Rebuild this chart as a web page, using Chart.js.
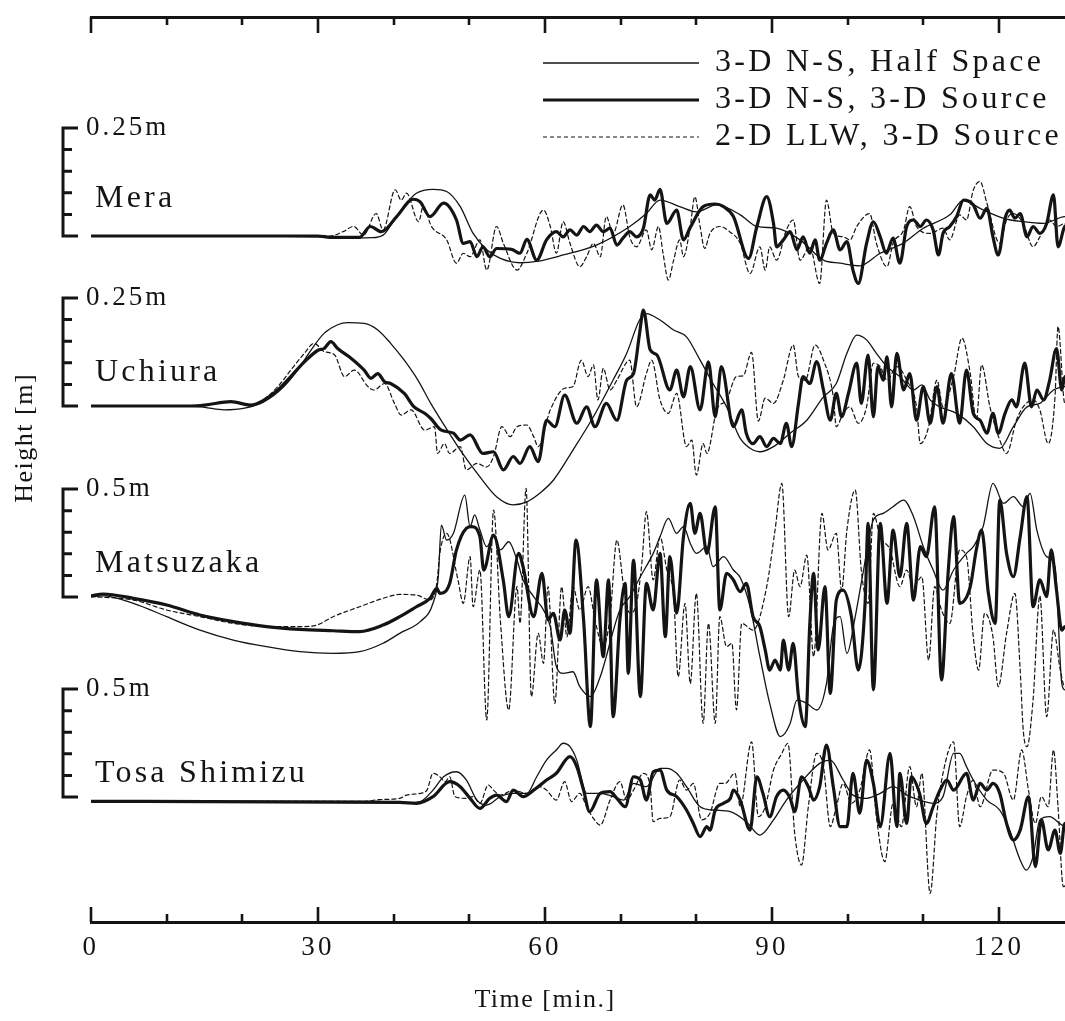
<!DOCTYPE html>
<html><head><meta charset="utf-8">
<script src="https://cdn.jsdelivr.net/npm/chart.js@4.4.1/dist/chart.umd.min.js"></script>
<style>
html,body{margin:0;padding:0;background:#fff;overflow:hidden}
#wrap{width:1065px;height:1021px;overflow:hidden;position:relative;background:#fff}
canvas{display:block}
</style></head>
<body><div id="wrap"><canvas id="c" width="1100" height="1021"></canvas></div>
<script>
// ---- data: [time (min), height (m)] ----
const MERA_HALF = [[0,0],[20,0],[30,-0.002],[34,-0.005],[37,-0.004],[38.6,0.002],[40,0.035],[41.7,0.076],[43,0.099],[45.2,0.108],[47,0.103],[48.8,0.068],[50.5,0.006],[52.3,-0.032],[54.1,-0.052],[56.7,-0.062],[58.9,-0.059],[62.4,-0.044],[66.8,-0.021],[71.2,0.022],[73.4,0.052],[75.2,0.083],[77.8,0.068],[80,0.056],[82.7,0.072],[85.8,0.049],[88,0.022],[90.6,0.018],[93.7,-0.009],[96.8,-0.056],[99,-0.063],[101.6,-0.069],[104.3,-0.040],[107.3,-0.017],[110,0.018],[113.5,0.049],[115.3,0.083],[117.5,0.064],[120.6,0.041],[123.2,0.033],[125.9,0.029],[128.7,0.045],[130,0.04]];
const MERA_SOURCE = [[0,0],[30,0],[31.6,-0.003],[35.5,-0.003],[36.9,0.022],[38.4,0.010],[40.4,0.045],[42.6,0.085],[43.5,0.079],[44.8,0.045],[46.6,0.076],[48.3,0.037],[49.2,-0.017],[50.1,-0.013],[51.0,-0.048],[51.8,-0.025],[52.7,-0.048],[53.6,-0.029],[55.6,-0.031],[56.7,-0.040],[57.6,-0.008],[58.9,-0.056],[60.2,-0.009],[61.5,0.010],[62.4,-0.002],[63.3,0.014],[64.2,0.002],[65.1,0.022],[65.9,0.010],[66.8,0.025],[67.7,0.010],[68.6,0.018],[69.5,-0.021],[70.3,-0.005],[71.2,0.010],[72.1,-0.002],[73.0,0.018],[73.9,0.095],[74.5,0.083],[75.2,0.108],[76.1,0.029],[77.4,0.060],[78.3,-0.009],[79.2,0.020],[80.9,0.068],[82.5,0.074],[83.6,0.068],[84.9,0.045],[86.9,-0.052],[88.0,0.022],[89.3,0.091],[90.2,0.029],[90.6,-0.025],[91.5,-0.009],[92.4,0.010],[93.3,-0.032],[94.1,-0.002],[95.0,-0.040],[95.7,-0.009],[96.3,-0.056],[97.2,-0.017],[98.1,0.014],[99.0,-0.032],[99.9,-0.013],[100.7,-0.079],[101.4,-0.110],[102.5,-0.017],[103.4,0.033],[104.3,-0.002],[105.1,-0.040],[106.0,-0.005],[106.9,-0.063],[107.8,0.022],[108.7,0.037],[109.6,0.022],[110.4,0.037],[111.3,0.014],[112.0,-0.044],[112.6,0.006],[113.5,0.022],[114.4,0.045],[115.3,0.083],[116.6,0.072],[117.5,0.041],[118.4,0.064],[119.2,-0.002],[119.9,-0.044],[120.8,0.041],[121.4,0.060],[122.1,0.041],[122.8,0.052],[123.7,-0.002],[124.5,0.022],[125.4,0.006],[126.3,0.029],[127.2,0.095],[127.8,-0.025],[128.7,0.022],[130,0.03]];
const MERA_LLW = [[0,0],[30,0],[31.6,0],[33.3,0.010],[34.7,0.022],[36.0,0.002],[37.7,0.052],[38.6,0.014],[40.2,0.107],[41.0,0.083],[41.7,0.099],[43.3,0.033],[43.9,0.068],[45.0,0.022],[47.0,-0.009],[48.3,-0.063],[49.2,-0.040],[50.1,-0.048],[51.4,-0.009],[52.3,-0.079],[53.6,0.022],[54.5,-0.017],[56.3,-0.079],[57.6,-0.040],[59.8,0.060],[60.7,0.022],[61.5,-0.040],[62.4,0.033],[63.3,-0.017],[64.6,-0.071],[65.5,-0.048],[66.4,-0.017],[67.3,-0.048],[68.1,0.045],[69.0,0.006],[70.3,0.072],[71.2,-0.002],[72.1,-0.025],[73.4,0.014],[74.1,-0.032],[75.0,0.022],[75.6,-0.040],[76.3,-0.102],[77.0,-0.056],[77.8,-0.009],[78.3,-0.048],[79.2,0.022],[79.8,0.091],[80.5,0.022],[81.1,-0.029],[81.8,0.006],[83.1,0.022],[84.4,0.010],[85.8,-0.017],[87.1,-0.087],[88.4,-0.025],[89.1,-0.079],[89.7,-0.025],[90.6,-0.056],[91.9,0.014],[92.8,0.037],[93.7,-0.056],[95.0,-0.025],[96.3,-0.110],[97.2,0.083],[98.1,0.006],[99.4,-0.002],[100.3,-0.009],[101.2,0.022],[102.9,0.052],[103.8,-0.017],[105.2,-0.071],[106.0,-0.017],[107.4,0.014],[108.2,0.068],[109.1,0.022],[110.9,0.006],[112.6,0.018],[113.5,-0.009],[114.8,0.049],[115.7,0.037],[116.6,0.106],[117.5,0.126],[118.4,0.076],[120.1,-0.017],[121.0,0.037],[121.9,0.052],[123.2,0.029],[124.5,-0.025],[125.4,-0.002],[126.7,0.037],[127.6,0.022],[128.7,0.029],[130,0.03]];

const UCHIURA_HALF = [[0,0],[13.2,0],[15,-0.003],[17.6,-0.009],[20.3,-0.005],[22.9,0.010],[25.5,0.045],[27.3,0.083],[29.1,0.130],[30.8,0.168],[32.6,0.188],[33.9,0.193],[36.1,0.191],[37.9,0.176],[39.6,0.145],[41.4,0.106],[43.2,0.060],[44.9,0.006],[46.7,-0.045],[48.8,-0.102],[51.4,-0.164],[53.6,-0.210],[55.8,-0.229],[57.6,-0.222],[59.3,-0.202],[61.1,-0.172],[63.7,-0.102],[66.4,-0.025],[69.0,0.060],[70.8,0.122],[72.5,0.199],[73.4,0.214],[75.2,0.199],[77.0,0.176],[78.7,0.160],[80.5,0.106],[82.2,0.052],[84.0,-0.002],[85.8,-0.075],[87.5,-0.102],[88.4,-0.106],[90.2,-0.094],[92.4,-0.063],[94.6,-0.033],[96.8,0.021],[98.5,0.052],[99.9,0.122],[101.2,0.164],[102.5,0.153],[103.8,0.122],[105.2,0.091],[106.9,0.068],[108.7,0.037],[109.8,0.049],[110.9,0.014],[112.2,-0.002],[114.4,-0.017],[116.6,-0.048],[118.4,-0.087],[120.1,-0.098],[121.9,-0.048],[123.7,-0.002],[125.4,0.006],[127.2,0.037],[128.7,0.045],[130,0.05]];
const UCHIURA_SOURCE = [[0,0],[13.2,0],[15,0.002],[18.5,0.010],[21.1,0.002],[22.9,0.014],[24.7,0.037],[26.4,0.068],[28.2,0.102],[30.0,0.129],[30.8,0.133],[31.7,0.149],[32.6,0.133],[34.4,0.110],[36.1,0.083],[37.0,0.064],[37.9,0.075],[38.8,0.056],[39.6,0.052],[41.4,0.029],[42.7,-0.002],[44.1,-0.017],[44.9,-0.029],[46.3,-0.056],[47.9,-0.063],[48.8,-0.079],[50.1,-0.067],[51.8,-0.110],[53.2,-0.106],[54.5,-0.148],[55.8,-0.117],[56.7,-0.133],[58.0,-0.094],[59.1,-0.129],[60.2,-0.033],[61.3,-0.048],[62.6,0.025],[64.2,-0.040],[65.5,-0.002],[66.6,-0.048],[68.1,0.006],[69.5,-0.033],[70.8,0.060],[71.7,0.075],[72.5,0.168],[73.0,0.222],[73.9,0.130],[74.8,0.118],[76.5,0.037],[77.4,0.083],[78.3,0.021],[79.2,0.091],[80.5,-0.009],[81.6,0.102],[82.5,-0.025],[83.3,0.091],[84.9,-0.048],[86.0,-0.009],[86.6,-0.063],[87.5,-0.087],[88.4,-0.071],[89.3,-0.094],[90.2,-0.075],[91.1,-0.087],[91.9,-0.040],[92.6,-0.094],[93.5,0.006],[94.1,0.068],[95.0,0.052],[95.9,0.103],[96.8,0.037],[97.7,-0.033],[98.5,0.029],[99.2,-0.025],[100.1,0.029],[101.2,0.099],[101.8,0.006],[102.7,0.118],[103.4,-0.025],[104.0,0.091],[104.7,0.060],[105.2,0.114],[105.8,-0.002],[106.5,0.122],[107.4,0.037],[108.2,0.075],[109.1,-0.033],[110.0,0.045],[110.9,-0.040],[111.8,0.045],[112.6,-0.040],[113.7,0.075],[114.8,-0.040],[115.7,0.083],[116.6,-0.017],[117.5,-0.033],[118.4,-0.063],[119.2,-0.017],[119.9,-0.063],[120.8,-0.017],[121.7,0.014],[122.3,-0.002],[123.4,0.099],[124.3,-0.002],[125.0,0.037],[125.9,0.014],[126.7,0.060],[127.6,0.133],[128.3,0.037],[128.7,0.068],[130,0.06]];
const UCHIURA_LLW = [[0,0],[13.2,0],[15,0.002],[18.5,0.010],[21.1,0.002],[22.9,0.016],[24.7,0.045],[26.4,0.083],[28.2,0.122],[29.5,0.145],[30.8,0.126],[32.2,0.118],[33.5,0.068],[34.8,0.083],[36.6,0.045],[37.4,0.037],[38.8,0.052],[40.1,0.006],[41.0,-0.021],[42.3,-0.009],[44.1,-0.056],[45.4,-0.048],[45.8,-0.110],[46.7,-0.087],[47.4,-0.110],[48.8,-0.094],[49.6,-0.148],[51.0,-0.133],[52.3,-0.141],[53.2,-0.117],[54.3,-0.048],[55.4,-0.071],[56.3,-0.048],[57.6,-0.044],[58.5,-0.071],[59.1,-0.094],[60.7,-0.009],[62.6,0.041],[63.7,0.045],[64.8,0.106],[65.7,0.068],[66.4,0.095],[67.0,0.014],[67.7,0.087],[68.6,0.037],[69.5,0.060],[71.2,0.106],[72.1,-0.002],[73.4,0.075],[74.1,0.106],[75.2,0.014],[76.3,-0.017],[77.4,0.029],[78.7,-0.094],[79.4,-0.079],[80.0,-0.160],[80.9,-0.087],[81.4,-0.110],[82.7,-0.009],[84.0,0.014],[85.3,0.068],[86.2,0.070],[87.3,0.124],[88.2,-0.035],[89.1,0.018],[90.2,0.006],[91.5,0.060],[92.8,0.141],[93.5,0.068],[94.4,0.060],[95.7,0.141],[96.8,0.106],[98.1,0.021],[98.5,-0.048],[99.4,-0.017],[100.3,-0.002],[101.4,-0.040],[102.5,-0.002],[103.4,0.099],[104.3,0.091],[105.2,0.060],[106.5,0.091],[107.8,0.060],[109.1,-0.002],[109.6,-0.087],[110.7,-0.048],[111.8,0.060],[112.6,-0.002],[114.0,0.068],[115.1,0.157],[116.2,0.075],[117.0,-0.033],[117.7,0.095],[118.8,-0.002],[120.1,-0.079],[121.0,-0.110],[122.3,-0.033],[123.2,-0.002],[124.5,0.014],[125.4,-0.009],[126.5,-0.087],[127.4,0.021],[127.8,0.184],[128.7,0.006],[130,0.02]];

const MATSU_HALF = [[0,0.002],[1.6,0.005],[5.6,-0.029],[10,-0.091],[14.4,-0.153],[18.8,-0.199],[23.2,-0.230],[27.6,-0.253],[32.0,-0.261],[35.5,-0.253],[38.6,-0.214],[40.8,-0.168],[43.5,-0.114],[45.2,-0.029],[45.9,0.094],[46.3,0.333],[47.0,0.264],[47.9,0.295],[49.4,0.472],[50.1,0.326],[50.7,0.380],[51.4,0.310],[52.3,0.233],[53.2,0.279],[54.1,0.218],[55.2,0.256],[56.3,0.171],[57.1,0.079],[58.5,0.002],[59.8,-0.060],[60.7,-0.137],[61.5,-0.322],[62.4,-0.353],[63.7,-0.346],[64.6,-0.415],[66.0,-0.461],[67.3,-0.369],[68.1,-0.276],[68.8,-0.184],[69.9,-0.060],[71.2,0.002],[72.6,0.094],[74.3,0.202],[75.2,0.279],[76.3,0.364],[77.4,0.295],[78.3,0.326],[79.2,0.248],[80.0,0.202],[81.4,0.233],[82.2,0.141],[83.6,0.187],[84.9,0.125],[85.8,0.090],[87.1,-0.045],[88.4,-0.276],[89.7,-0.492],[91.1,-0.646],[92.4,-0.585],[93.3,-0.477],[94.6,-0.492],[95.9,-0.523],[97.2,-0.400],[98.1,-0.137],[99.0,-0.091],[99.9,-0.261],[101.0,-0.091],[102.1,0.125],[103.4,0.357],[104.7,0.387],[106.0,0.418],[107.4,0.449],[108.7,0.372],[110.0,0.233],[111.3,0.125],[112.6,0.032],[114.0,0.125],[115.7,0.202],[116.6,0.233],[117.9,0.326],[119.2,0.526],[120.6,0.434],[121.9,0.465],[123.2,0.418],[124.1,0.480],[125.0,0.310],[126.3,0.187],[127.4,0.141],[128.3,-0.400],[128.7,-0.430],[130,-0.43]];
const MATSU_SOURCE = [[0,0.005],[1.6,0.014],[5.6,-0.006],[10,-0.037],[14.4,-0.083],[18.8,-0.114],[23.2,-0.137],[27.6,-0.150],[32,-0.156],[35.5,-0.160],[38.6,-0.130],[40.8,-0.091],[43.0,-0.045],[44.8,-0.006],[45.7,0.040],[46.1,0.017],[47.4,0.063],[48.3,0.218],[49.6,0.318],[50.3,0.326],[51.4,0.279],[51.9,0.125],[53.2,0.287],[54.5,0.074],[55.2,-0.091],[56.5,0.202],[57.1,0.141],[58.5,-0.091],[59.6,0.110],[60.4,-0.106],[61.1,-0.075],[62.0,-0.199],[62.6,-0.060],[63.3,-0.168],[64.1,0.264],[65.1,-0.106],[66.0,-0.600],[66.8,0.079],[67.7,-0.276],[68.4,0.079],[69.0,-0.554],[69.9,-0.106],[70.6,0.063],[71.0,-0.353],[71.7,0.171],[72.6,-0.461],[73.4,0.063],[74.3,-0.060],[75.2,0.202],[75.9,-0.184],[76.5,0.187],[77.4,-0.075],[78.3,0.279],[79.2,0.434],[79.8,0.295],[80.5,0.387],[81.4,0.202],[82.5,0.418],[83.1,-0.060],[84.0,0.110],[84.9,0.079],[85.8,0.025],[86.6,0.063],[87.5,-0.091],[88.4,-0.137],[89.1,-0.245],[89.7,-0.338],[90.4,-0.292],[91.1,-0.338],[91.5,-0.199],[92.2,-0.338],[92.8,-0.214],[93.5,-0.461],[94.4,-0.600],[95.0,-0.122],[95.5,0.110],[96.1,-0.245],[97.0,0.048],[97.7,-0.446],[98.5,-0.014],[99.4,0.032],[100.5,-0.091],[101.4,-0.338],[102.3,-0.029],[102.7,0.341],[103.4,-0.430],[104.3,0.341],[105.2,-0.029],[106.0,0.310],[106.9,0.094],[107.8,0.341],[108.7,-0.014],[109.6,0.233],[110.4,0.187],[111.5,0.418],[112.4,-0.384],[113.3,0.125],[114.0,0.372],[114.8,-0.029],[116.2,0.048],[117.0,0.218],[117.7,0.310],[118.6,0.017],[119.5,-0.122],[120.1,0.449],[121.0,0.202],[121.9,0.094],[122.8,0.279],[123.7,0.465],[124.5,-0.045],[125.4,0.079],[126.3,0.002],[126.9,0.218],[127.6,0.032],[128.3,-0.153],[128.7,-0.137],[130,-0.14]];
const MATSU_LLW = [[0,0.002],[5.6,-0.014],[10,-0.060],[14.4,-0.091],[18.8,-0.122],[23.2,-0.137],[27.6,-0.137],[29.8,-0.130],[32,-0.091],[35.5,-0.045],[38.6,-0.006],[40.8,0.012],[43.0,0.009],[44.8,-0.014],[45.7,0.063],[46.1,0.202],[47.0,0.295],[48.5,0.079],[49.2,-0.029],[50.1,0.187],[50.5,-0.045],[51.4,0.125],[52.3,-0.569],[53.2,0.403],[54.1,-0.106],[55.2,-0.523],[56.3,0.048],[56.7,-0.122],[57.5,0.503],[58.2,-0.461],[59.1,-0.168],[59.8,-0.307],[60.4,0.048],[61.3,-0.492],[62.2,0.048],[62.9,-0.184],[63.7,0.048],[64.6,-0.060],[65.7,0.048],[66.6,-0.106],[67.7,-0.230],[68.6,-0.091],[69.5,0.264],[70.4,0.048],[71.2,-0.075],[72.1,-0.029],[72.8,0.156],[73.4,0.395],[74.3,0.079],[75.2,0.279],[76.1,0.125],[77.0,0.002],[77.6,-0.369],[78.5,-0.029],[79.2,-0.400],[80.0,0.017],[80.9,-0.585],[81.6,-0.122],[82.5,-0.585],[83.1,-0.091],[84.0,-0.230],[84.7,-0.214],[85.3,-0.523],[86.0,-0.122],[87.5,-0.153],[89.3,0.048],[90.4,0.310],[91.3,0.526],[92.2,-0.091],[93.0,0.125],[93.7,0.048],[94.6,0.194],[95.5,-0.276],[96.6,0.387],[97.4,0.218],[98.5,0.295],[99.2,0.032],[99.9,0.310],[101.0,0.495],[101.8,0.125],[102.7,-0.029],[103.4,0.387],[104.3,0.279],[105.6,0.218],[106.9,0.048],[107.8,0.125],[108.7,0.048],[109.8,0.094],[110.7,-0.292],[111.5,0.048],[112.4,-0.060],[113.5,-0.122],[114.8,0.218],[115.7,0.187],[116.6,-0.184],[117.3,-0.338],[118.1,-0.075],[119.2,-0.184],[119.9,-0.415],[121.0,-0.168],[122.1,0.017],[122.8,-0.338],[123.2,-0.615],[123.7,-0.693],[124.5,-0.477],[125.4,0.005],[126.3,-0.554],[127.2,-0.153],[128.1,-0.338],[128.7,-0.415],[130,-0.4]];

const TOSA_HALF = [[0,-0.02],[38,-0.02],[40.8,-0.029],[43.5,-0.021],[45.2,0.032],[46.6,0.094],[48.3,0.117],[49.6,0.079],[51.0,-0.014],[52.3,-0.037],[54.1,0.002],[55.8,0.017],[57.6,0.017],[58.9,0.094],[60.2,0.171],[61.5,0.218],[62.4,0.249],[63.3,0.233],[64.2,0.171],[65.5,0.017],[67.3,0.017],[69.0,0.002],[70.4,-0.014],[71.7,0.063],[73.4,0.048],[75.2,0.133],[76.1,0.133],[77.4,0.110],[78.7,0.048],[80.5,-0.045],[82.2,-0.060],[84.5,-0.068],[86.6,-0.114],[88.4,-0.176],[90.2,-0.106],[91.9,-0.014],[94.1,0.079],[96.3,0.156],[97.7,0.171],[99.4,0.079],[100.7,0.009],[102.5,-0.006],[104.3,0.017],[106.0,0.048],[107.8,0.009],[109.5,-0.014],[111.3,-0.029],[112.6,0.002],[114.0,0.202],[114.8,0.202],[115.7,0.141],[116.6,0.079],[118.4,-0.014],[120.1,-0.060],[121.4,-0.153],[122.8,-0.291],[123.6,-0.338],[124.5,-0.276],[125.4,-0.106],[126.7,-0.091],[128.0,-0.122],[128.7,-0.137],[130,-0.14]];
const TOSA_SOURCE = [[0,-0.02],[40.8,-0.025],[43.0,-0.029],[45.2,0.002],[47.4,0.071],[48.8,0.048],[50.1,-0.006],[51.4,-0.052],[52.7,-0.006],[53.6,0.009],[54.9,-0.021],[55.8,0.032],[57.1,0.002],[58.5,0.032],[60.2,0.079],[61.5,0.110],[63.3,0.187],[64.2,0.141],[65.1,0.032],[65.9,-0.068],[67.3,0.017],[68.6,0.025],[69.5,-0.006],[70.6,-0.045],[71.7,0.094],[72.6,0.079],[73.4,-0.014],[74.3,0.117],[75.2,0.125],[76.1,0.032],[77.4,0.002],[78.7,-0.060],[79.6,-0.122],[80.5,-0.183],[81.4,-0.137],[81.8,-0.153],[82.5,-0.060],[83.6,-0.029],[84.5,-0.006],[84.9,0.032],[85.8,-0.014],[87.1,-0.153],[88.0,0.094],[88.8,0.017],[89.7,-0.091],[90.6,0.002],[91.5,0.032],[92.4,-0.006],[93.0,-0.068],[93.9,0.094],[94.8,0.048],[95.5,-0.014],[96.3,0.048],[97.2,0.241],[98.1,0.048],[99.0,-0.137],[99.9,-0.137],[100.7,0.110],[101.6,-0.075],[102.5,0.171],[103.4,0.063],[104.3,-0.137],[105.6,0.202],[106.5,-0.137],[106.9,0.110],[107.8,-0.122],[108.4,0.094],[109.5,0.017],[110.4,-0.122],[111.3,-0.045],[112.2,0.032],[113.1,0.079],[114.0,0.032],[115.7,0.110],[116.6,-0.014],[117.5,0.063],[118.4,0.032],[119.2,0.063],[120.1,0.017],[121.0,-0.122],[121.9,-0.199],[122.8,-0.153],[123.9,0.002],[124.8,-0.322],[125.6,-0.106],[126.5,-0.245],[127.4,-0.153],[128.1,-0.261],[128.7,-0.122],[130,-0.15]];
const TOSA_LLW = [[0,-0.02],[36,-0.02],[38,-0.012],[40.8,-0.006],[41.7,0.009],[43.5,0.017],[44.4,0.032],[45.2,0.110],[46.1,0.094],[46.8,0.071],[47.4,0.094],[48.1,0.002],[49.6,-0.006],[50.5,0.002],[51.4,-0.029],[52.5,0.056],[53.2,0.032],[54.1,0.009],[55.8,0.032],[57.6,0.017],[59.3,0.048],[60.2,0.032],[61.5,-0.014],[62.6,0.071],[63.5,-0.021],[64.6,0.017],[65.5,-0.045],[66.4,-0.099],[67.3,-0.130],[68.6,-0.014],[69.9,0.071],[70.8,-0.014],[71.7,0.032],[73.0,0.110],[73.9,0.048],[74.3,-0.114],[75.2,-0.099],[76.5,-0.091],[77.8,0.079],[78.7,0.032],[79.6,0.063],[80.7,-0.106],[81.8,-0.075],[83.1,0.063],[83.8,0.063],[85.1,0.110],[85.8,-0.045],[87.3,0.256],[88.2,-0.091],[89.1,-0.045],[90.2,0.125],[91.3,0.202],[92.1,0.249],[93.0,-0.168],[93.9,-0.315],[94.8,-0.045],[95.9,0.202],[96.8,0.141],[97.7,-0.137],[98.5,-0.045],[99.4,0.063],[100.5,-0.029],[101.6,0.032],[102.9,0.218],[103.8,-0.091],[104.9,-0.299],[106.0,-0.029],[107.1,-0.137],[108.2,0.141],[109.1,-0.045],[109.8,0.110],[110.9,-0.446],[111.8,-0.075],[112.6,0.110],[114.0,0.256],[114.8,-0.137],[115.7,0.002],[116.6,0.079],[117.5,-0.045],[119.2,0.125],[120.6,0.110],[121.9,-0.014],[123.0,0.218],[123.9,0.032],[124.8,-0.122],[125.6,0.002],[126.5,-0.045],[127.2,0.218],[127.8,-0.045],[128.5,-0.415],[130,-0.3]];

const MODELS = ['3-D N-S, Half Space', '3-D N-S, 3-D Source', '2-D LLW, 3-D Source'];
const STATION_NAMES = ['Mera', 'Uchiura', 'Matsuzaka', 'Tosa Shimizu'];
const FULL_SCALE = [0.25, 0.25, 0.5, 0.5];           // metres per bracket
const SCALE_LABELS = ['0.25m', '0.25m', '0.5m', '0.5m'];
const X_TICK_LABELS = [0, 30, 60, 90, 120];
const X_TITLE = 'Time [min.]';
const Y_TITLE = 'Height [m]';

// ---- layout (not data) ----
const INK = '#141414';
const FONT = 'Liberation Serif';
const Y_MAX = 905 / 108;                 // one unit = one bracket height
const BASES = [6.352, 4.778, 3.009, 1.157];
const NAME_DY = [0.27, 0.23, 0.235, 0.14];
const SERIES = [
  [MERA_HALF, MERA_SOURCE, MERA_LLW],
  [UCHIURA_HALF, UCHIURA_SOURCE, UCHIURA_LLW],
  [MATSU_HALF, MATSU_SOURCE, MATSU_LLW],
  [TOSA_HALF, TOSA_SOURCE, TOSA_LLW]
];
const STYLES = [
  {borderWidth: 1.3, borderDash: [], order: 2},
  {borderWidth: 3.2, borderDash: [], order: 0},
  {borderWidth: 1.2, borderDash: [4, 3], order: 1}
];
const LEG_FONT = 32, LEG_PAD = 5, LEG_X = 543, LEG_Y = 63, LEG_BOX = 156;

const datasets = [];
SERIES.forEach((group, s) => {
  group.forEach((pts, m) => {
    datasets.push(Object.assign({
      label: MODELS[m],
      data: pts.map(([t, h]) => ({x: t, y: BASES[s] + h / FULL_SCALE[s]})),
      borderColor: INK, backgroundColor: INK,
      pointRadius: 0, pointHoverRadius: 0,
      cubicInterpolationMode: 'monotone',
      borderCapStyle: 'round', borderJoinStyle: 'round'
    }, STYLES[m]));
  });
});

function spacing(ctx, px) { ctx.letterSpacing = px + 'px'; }

const decor = {
  id: 'decor',
  beforeUpdate(chart) { spacing(chart.ctx, 3.3); },
  afterLayout(chart) {
    const lg = chart.legend;
    if (!lg) return;
    lg.left = LEG_X - LEG_PAD; lg.top = LEG_Y - LEG_FONT / 2 - LEG_PAD;
    lg.width = 620; lg.height = 200;
    lg.right = lg.left + lg.width; lg.bottom = lg.top + lg.height;
  },
  beforeDraw(chart) { spacing(chart.ctx, 3.3); },
  beforeDatasetsDraw(chart) { spacing(chart.ctx, 1); },
  afterDraw(chart) {
    const {ctx, chartArea} = chart;
    const xs = chart.scales.x, xt = chart.scales.x2, ys = chart.scales.y;
    ctx.save();
    ctx.strokeStyle = INK; ctx.lineWidth = 2.6; ctx.lineCap = 'butt';
    ctx.beginPath();
    xs.ticks.forEach(t => {
      const px = Math.round(xs.getPixelForValue(t.value));
      const L = t.value % 30 === 0 ? 15 : 8;
      ctx.moveTo(px, chartArea.bottom); ctx.lineTo(px, chartArea.bottom - L);
    });
    xt.ticks.forEach(t => {
      const px = Math.round(xt.getPixelForValue(t.value));
      const L = t.value % 30 === 0 ? 16 : 8;
      ctx.moveTo(px, chartArea.top); ctx.lineTo(px, chartArea.top + L);
    });
    ctx.stroke();
    // per-station height brackets
    const BX = 63;
    STATION_NAMES.forEach((name, s) => {
      const y0 = ys.getPixelForValue(BASES[s]), y1 = ys.getPixelForValue(BASES[s] + 1);
      ctx.beginPath(); ctx.lineWidth = 3;
      ctx.moveTo(BX, y0 + 1.5); ctx.lineTo(BX, y1 - 1.5);
      for (let k = 0; k <= 5; k++) {
        const yy = ys.getPixelForValue(BASES[s] + k / 5);
        const L = (k === 0 || k === 5) ? 15 : 9;
        ctx.moveTo(BX - 1.5, yy); ctx.lineTo(BX + L, yy);
      }
      ctx.stroke();
      ctx.fillStyle = INK; ctx.textAlign = 'left';
      spacing(ctx, 3);
      ctx.font = '27px "' + FONT + '"'; ctx.textBaseline = 'middle';
      ctx.fillText(SCALE_LABELS[s], 86, y1);
      spacing(ctx, 3.2);
      ctx.font = '32px "' + FONT + '"'; ctx.textBaseline = 'alphabetic';
      ctx.fillText(name, 95, ys.getPixelForValue(BASES[s] + NAME_DY[s]));
    });
    // axis titles
    spacing(ctx, 1.5);
    ctx.font = '26px "' + FONT + '"'; ctx.textAlign = 'center'; ctx.textBaseline = 'middle';
    ctx.fillText(X_TITLE, xs.getPixelForValue(60), 1000);
    ctx.save();
    ctx.translate(25, ys.getPixelForValue(Y_MAX * 0.535));
    ctx.rotate(-Math.PI / 2);
    ctx.fillText(Y_TITLE, 0, 0);
    ctx.restore();
    ctx.restore();
  }
};

new Chart(document.getElementById('c'), {
  type: 'line',
  data: {datasets},
  plugins: [decor],
  options: {
    responsive: false, animation: false, devicePixelRatio: 1,
    layout: {padding: {left: 91, top: 17, right: 1100 - 91 - 130 * (227 / 30), bottom: 0}},
    plugins: {
      tooltip: {enabled: false},
      legend: {
        position: 'chartArea', align: 'start',
        labels: {
          generateLabels: () => MODELS.map((text, m) => ({
            text, fillStyle: INK, strokeStyle: INK, fontColor: INK,
            lineWidth: STYLES[m].borderWidth, lineDash: STYLES[m].borderDash,
            pointStyle: 'line', hidden: false, datasetIndex: m
          })),
          usePointStyle: true, pointStyle: 'line', pointStyleWidth: LEG_BOX, boxWidth: LEG_BOX,
          font: {size: LEG_FONT, family: FONT}, color: INK, padding: LEG_PAD
        }
      }
    },
    scales: {
      x: {
        type: 'linear', position: 'bottom', min: 0, max: 130,
        grid: {display: false, drawTicks: false},
        border: {display: true, color: INK, width: 3},
        ticks: {stepSize: 10, autoSkip: false, maxRotation: 0, padding: 10,
                font: {size: 27, family: FONT}, color: INK,
                callback: (v) => X_TICK_LABELS.includes(v) ? String(v) : ''},
        afterFit: (s) => { s.height = 99; }
      },
      x2: {
        type: 'linear', position: 'top', min: 0, max: 130,
        grid: {display: false, drawTicks: false},
        border: {display: true, color: INK, width: 3},
        ticks: {display: false, stepSize: 10},
        afterFit: (s) => { s.height = 0; }
      },
      y: {type: 'linear', display: false, min: 0, max: Y_MAX}
    }
  }
});
</script></body></html>
